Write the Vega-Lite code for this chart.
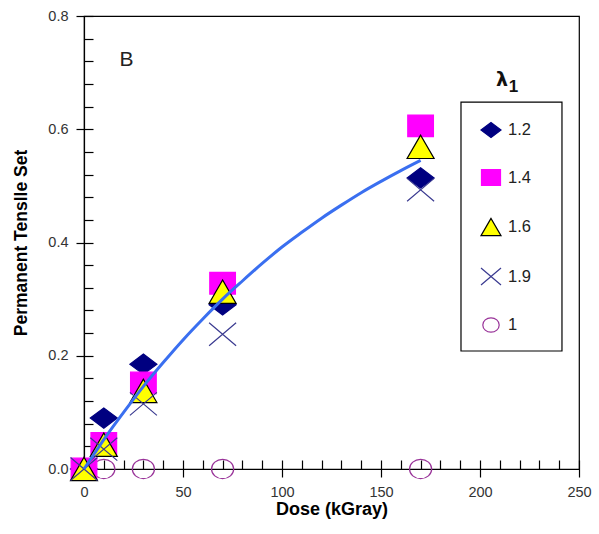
{
  "$schema": "https://vega.github.io/schema/vega-lite/v6.json",
  "width": 495,
  "height": 453,
  "autosize": {"type": "none"},
  "padding": {"left": 84, "top": 16, "right": 20, "bottom": 65},
  "background": "white",
  "config": {
    "view": {"stroke": "black", "strokeWidth": 1.2},
    "font": "Liberation Sans"
  },
  "datasets": {
    "pts": [
      {"dose": 0, "set": 0, "lambda": "1"},
      {"dose": 10, "set": 0, "lambda": "1"},
      {"dose": 30, "set": 0, "lambda": "1"},
      {"dose": 70, "set": 0, "lambda": "1"},
      {"dose": 170, "set": 0, "lambda": "1"},
      {"dose": 0, "set": 0, "lambda": "1.2"},
      {"dose": 10, "set": 0.09, "lambda": "1.2"},
      {"dose": 30, "set": 0.185, "lambda": "1.2"},
      {"dose": 70, "set": 0.29, "lambda": "1.2"},
      {"dose": 170, "set": 0.514, "lambda": "1.2"},
      {"dose": 0, "set": 0, "lambda": "1.4"},
      {"dose": 10, "set": 0.045, "lambda": "1.4"},
      {"dose": 30, "set": 0.152, "lambda": "1.4"},
      {"dose": 70, "set": 0.328, "lambda": "1.4"},
      {"dose": 170, "set": 0.606, "lambda": "1.4"},
      {"dose": 0, "set": 0, "lambda": "1.6"},
      {"dose": 10, "set": 0.043, "lambda": "1.6"},
      {"dose": 30, "set": 0.138, "lambda": "1.6"},
      {"dose": 70, "set": 0.313, "lambda": "1.6"},
      {"dose": 170, "set": 0.569, "lambda": "1.6"},
      {"dose": 0, "set": 0, "lambda": "1.9"},
      {"dose": 10, "set": 0.035, "lambda": "1.9"},
      {"dose": 30, "set": 0.115, "lambda": "1.9"},
      {"dose": 70, "set": 0.238, "lambda": "1.9"},
      {"dose": 170, "set": 0.493, "lambda": "1.9"}
    ],
    "fit": [
      {"dose": 0, "set": 0},
      {"dose": 5, "set": 0.026},
      {"dose": 10, "set": 0.052},
      {"dose": 20, "set": 0.1},
      {"dose": 30, "set": 0.146},
      {"dose": 40, "set": 0.188},
      {"dose": 50, "set": 0.228},
      {"dose": 60, "set": 0.265},
      {"dose": 70, "set": 0.3},
      {"dose": 80, "set": 0.332},
      {"dose": 90, "set": 0.363},
      {"dose": 100, "set": 0.392},
      {"dose": 110, "set": 0.418},
      {"dose": 120, "set": 0.443},
      {"dose": 130, "set": 0.466},
      {"dose": 140, "set": 0.488},
      {"dose": 150, "set": 0.508},
      {"dose": 160, "set": 0.527},
      {"dose": 170, "set": 0.545}
    ]
  },
  "resolve": {"axis": {"x": "independent", "y": "independent"}},
  "layer": [
    {
      "data": {"name": "pts"},
      "mark": {"type": "point", "opacity": 1, "strokeWidth": 1.2, "size": 729},
      "encoding": {
        "x": {
          "field": "dose", "type": "quantitative",
          "scale": {"domain": [0, 250], "nice": false, "zero": false},
          "axis": {
            "orient": "bottom",
            "values": [0, 50, 100, 150, 200, 250], "format": "d", "labelFlush": false,
            "grid": false, "tickSize": 8, "tickWidth": 1.2, "tickColor": "black",
            "domainColor": "black", "domainWidth": 1.2,
            "labelFont": "Liberation Sans", "labelFontSize": 14.5, "labelColor": "#333", "labelPadding": 8,
            "title": "Dose (kGray)", "titleFont": "Liberation Sans", "titleFontSize": 18, "titleFontWeight": "bold",
            "titleColor": "black", "titlePadding": 2
          }
        },
        "y": {
          "field": "set", "type": "quantitative",
          "scale": {"domain": [0, 0.8], "nice": false, "zero": false},
          "axis": {
            "orient": "left",
            "values": [0, 0.2, 0.4, 0.6, 0.8], "format": ".1f", "labelFlush": false,
            "grid": false, "tickSize": 8, "tickWidth": 1.2, "tickColor": "black",
            "domainColor": "black", "domainWidth": 1.2,
            "labelFont": "Liberation Sans", "labelFontSize": 14.5, "labelColor": "#333", "labelPadding": 8,
            "title": "Permanent Tenslle Set", "titleFont": "Liberation Sans", "titleFontSize": 17.5, "titleFontWeight": "bold",
            "titleColor": "black", "titlePadding": 17
          }
        },
        "shape": {
          "field": "lambda", "type": "nominal",
          "scale": {
            "domain": ["1.2", "1.4", "1.6", "1.9", "1"],
            "range": [
              "M-1,0L0,-0.75L1,0L0,0.75Z",
              "M-0.95,-0.8L0.95,-0.8L0.95,0.8L-0.95,0.8Z",
              "triangle-up",
              "M-1,-0.85L1,0.85M-1,0.85L1,-0.85",
              "M-0.82,0A0.82,0.72,0,1,1,0.82,0A0.82,0.72,0,1,1,-0.82,0Z"
            ]
          },
          "legend": {
            "orient": "none", "legendX": 377, "legendY": 86, "title": null,
            "padding": 17, "rowPadding": 26.5,
            "symbolSize": 400, "symbolStrokeWidth": 1.2, "symbolOffset": 2,
            "labelFont": "Liberation Sans", "labelFontSize": 16.5, "labelColor": "#222", "labelOffset": 6
          }
        },
        "fill": {
          "field": "lambda", "type": "nominal",
          "scale": {
            "domain": ["1.2", "1.4", "1.6", "1.9", "1"],
            "range": ["#000080", "#ff00ff", "#ffff00", "transparent", "transparent"]
          }
        },
        "stroke": {
          "field": "lambda", "type": "nominal",
          "scale": {
            "domain": ["1.2", "1.4", "1.6", "1.9", "1"],
            "range": ["#000080", "#ff00ff", "#000000", "#3a3a90", "#993399"]
          }
        }
      }
    },
    {
      "data": {"name": "fit"},
      "mark": {"type": "line", "color": "#3a6ff0", "strokeWidth": 3, "interpolate": "monotone"},
      "encoding": {
        "x": {
          "field": "dose", "type": "quantitative",
          "scale": {"domain": [0, 250], "nice": false, "zero": false},
          "axis": {
            "orient": "bottom",
            "values": [0, 10, 20, 30, 40, 50, 60, 70, 80, 90, 100, 110, 120, 130, 140, 150, 160, 170, 180, 190, 200, 210, 220, 230, 240, 250],
            "grid": false, "labels": false, "domain": false, "title": null,
            "tickSize": -9, "tickWidth": 1.2, "tickColor": "black"
          }
        },
        "y": {
          "field": "set", "type": "quantitative",
          "scale": {"domain": [0, 0.8], "nice": false, "zero": false},
          "axis": {
            "orient": "left",
            "values": [0, 0.04, 0.08, 0.12, 0.16, 0.2, 0.24, 0.28, 0.32, 0.36, 0.4, 0.44, 0.48, 0.52, 0.56, 0.6, 0.64, 0.68, 0.72, 0.76, 0.8],
            "grid": false, "labels": false, "domain": false, "title": null,
            "tickSize": -9, "tickWidth": 1.2, "tickColor": "black"
          }
        }
      }
    },
    {
      "data": {"values": [{}]},
      "mark": {"type": "rect", "fill": "transparent", "stroke": "black", "strokeWidth": 1.2},
      "encoding": {
        "x": {"datum": 190.4, "type": "quantitative", "axis": null},
        "x2": {"datum": 241.4},
        "y": {"datum": 0.648, "type": "quantitative", "axis": null},
        "y2": {"datum": 0.2084}
      }
    },
    {
      "data": {"values": [{}]},
      "mark": {"type": "text", "text": "B", "font": "Liberation Sans", "fontSize": 21, "color": "#222", "align": "center", "baseline": "middle"},
      "encoding": {
        "x": {"datum": 21.5, "type": "quantitative", "axis": null},
        "y": {"datum": 0.722, "type": "quantitative", "axis": null}
      }
    },
    {
      "data": {"values": [{}]},
      "mark": {"type": "text", "text": "λ", "font": "DejaVu Sans", "fontSize": 19, "fontWeight": "bold", "color": "#111", "align": "center", "baseline": "middle"},
      "encoding": {
        "x": {"datum": 211.1, "type": "quantitative", "axis": null},
        "y": {"datum": 0.687, "type": "quantitative", "axis": null}
      }
    },
    {
      "data": {"values": [{}]},
      "mark": {"type": "text", "text": "1", "font": "Liberation Sans", "fontSize": 17, "fontWeight": "bold", "color": "#111", "align": "center", "baseline": "middle"},
      "encoding": {
        "x": {"datum": 216.9, "type": "quantitative", "axis": null},
        "y": {"datum": 0.675, "type": "quantitative", "axis": null}
      }
    }
  ]
}
